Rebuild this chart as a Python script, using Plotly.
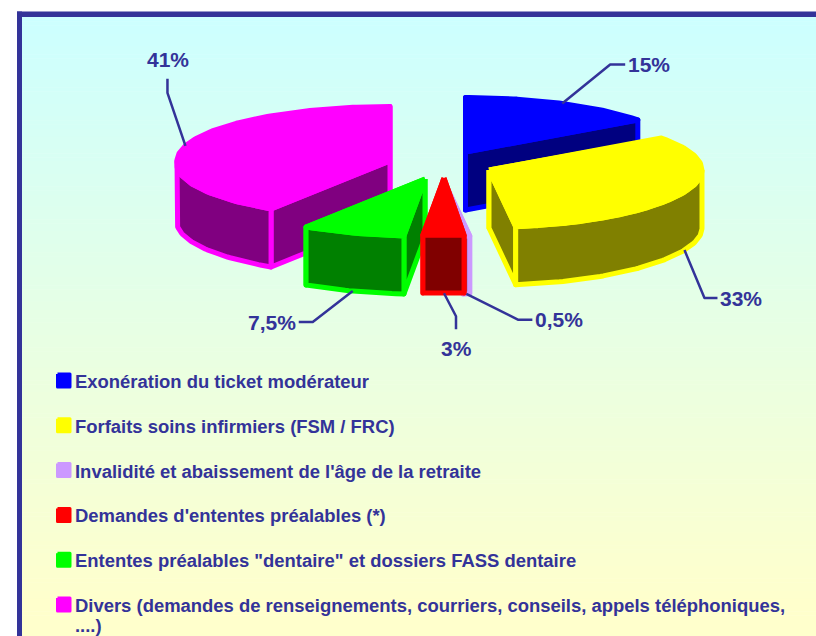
import math
import plotly.graph_objects as go

# --- data ---
categories = [
    "Exonération du ticket modérateur",
    "Forfaits soins infirmiers (FSM / FRC)",
    "Invalidité et abaissement de l'âge de la retraite",
    "Demandes d'ententes préalables (*)",
    "Ententes préalables \"dentaire\" et dossiers FASS dentaire",
    "Divers (demandes de renseignements, courriers, conseils, appels téléphoniques,<br>....)",
]
values = [15, 33, 0.5, 3, 7.5, 41]
value_labels = ["15%", "33%", "0,5%", "3%", "7,5%", "41%"]

# --- style ---
bright = ["#0000FF", "#FFFF00", "#CC99FF", "#FF0000", "#00FF00", "#FF00FF"]
dark = ["#000080", "#808000", "#664C80", "#800000", "#008000", "#800080"]
INK = "#333399"
FONT = "Liberation Sans, Arial, sans-serif"
W, H = 816, 636
RX, RY, DEPTH, FRONT = 213, 54.5, 58, 0.05
STROKE = 5
apex = [(465.5, 152), (489, 170), (443, 179), (444, 178), (425, 179), (390, 161)]
# leader: elbow offset from rim anchor, then end offset from the elbow
elbow = [(48, -39), (20, 48), (52, 26), (12, 23), (-40, 31), (-18, -53)]
tail = [(15, 0), (13, 0), (14, 0), (0, 13), (-14, 0), (0, -14)]
label_gap = [(1, 0), (1, 0), (1, 0), (0, 19), (-1, 0), (1, -19)]
draw_order = [0, 5, 1, 2, 4, 3]
legend_top, legend_step = 380.5, 44.8

fig = go.Figure()


def project(i, deg, drop=0):
    t = math.radians(deg)
    k = 1 + FRONT * max(0, -math.cos(t))
    kx = k if deg > 180 else 1
    return (apex[i][0] + RX * math.sin(t) * kx,
            apex[i][1] - RY * math.cos(t) * k + drop)


def poly(points, fill, line, width=STROKE):
    xs = [p[0] for p in points] + [points[0][0]]
    ys = [p[1] for p in points] + [points[0][1]]
    fig.add_trace(go.Scatter(x=xs, y=ys, mode="lines", fill="toself", fillcolor=fill,
                             line=dict(color=line, width=width), hoverinfo="skip",
                             showlegend=False))


# angular span of every slice, clockwise from twelve o'clock
total = sum(values)
spans, acc = [], 0
for v in values:
    start = acc / total * 360
    acc += v
    spans.append((start, acc / total * 360))

# slices, back to front
for i in draw_order:
    a, b = spans[i]
    walls = sorted([a, b], key=lambda d: project(i, d)[1])
    for w in walls:
        r = project(i, w)
        poly([apex[i], r, (r[0], r[1] + DEPTH), (apex[i][0], apex[i][1] + DEPTH)],
             dark[i], bright[i])
    lo, hi = max(a, 90), min(b, 270)
    if lo < hi:
        n = max(2, int(hi - lo) + 1)
        degs = [lo + (hi - lo) * k / (n - 1) for k in range(n)]
        poly([project(i, d) for d in degs] + [project(i, d, DEPTH) for d in reversed(degs)],
             dark[i], bright[i])
    n = max(2, int(b - a) + 1)
    top = [apex[i]] + [project(i, a + (b - a) * k / (n - 1)) for k in range(n)]
    poly(top, bright[i], bright[i])

# leaders and value labels
for i, text in enumerate(value_labels):
    mid = sum(spans[i]) / 2
    front = 90 < mid < 270
    p0 = project(i, mid, DEPTH if front else 0)
    p1 = (p0[0] + elbow[i][0], p0[1] + elbow[i][1])
    p2 = (p1[0] + tail[i][0], p1[1] + tail[i][1])
    fig.add_trace(go.Scatter(x=[p0[0], p1[0], p2[0]], y=[p0[1], p1[1], p2[1]], mode="lines",
                             line=dict(color=INK, width=2.5), hoverinfo="skip", showlegend=False))
    gx, gy = label_gap[i]
    fig.add_annotation(x=p2[0] + gx, y=p2[1] + gy, text=f"<b>{text}</b>", showarrow=False,
                       xanchor="center" if gy else "left" if gx > 0 else "right",
                       yanchor="middle", font=dict(family=FONT, size=21, color=INK))

# legend
for i, name in enumerate(categories):
    y = legend_top + i * legend_step
    poly([(57.5, y - 6.5), (70, y - 6.5), (70, y + 6.5), (57.5, y + 6.5)], bright[i], bright[i], 3)
    for j, part in enumerate(name.split("<br>")):
        fig.add_annotation(x=73, y=y + 1 + j * 20, text=f"<b>{part}</b>", showarrow=False,
                           xanchor="left", yanchor="middle",
                           font=dict(family=FONT, size=18.45, color=INK))

# background gradient and frame
shapes = []
STEPS = 150
c0, c1 = (0xCC, 0xFF, 0xFF), (0xFF, 0xFF, 0xCC)
for s in range(STEPS):
    y0 = 17 + (H - 17) * s / STEPS
    y1 = 17 + (H - 17) * (s + 1) / STEPS + 0.5
    f = min(1, (s + 0.5) / STEPS * 1.05)
    col = "rgb(%d,%d,%d)" % tuple(round(c0[k] + (c1[k] - c0[k]) * f) for k in range(3))
    shapes.append(dict(type="rect", layer="below", xref="x", yref="y", x0=22, x1=W, y0=y0, y1=y1,
                       fillcolor=col, line_width=0))
shapes.append(dict(type="rect", layer="below", xref="x", yref="y", x0=17, x1=W, y0=11.5, y1=17,
                   fillcolor=INK, line_width=0))
shapes.append(dict(type="rect", layer="below", xref="x", yref="y", x0=17, x1=22, y0=11.5, y1=H,
                   fillcolor=INK, line_width=0))

fig.update_layout(
    width=W, height=H, autosize=False, showlegend=False,
    margin=dict(l=0, r=0, t=0, b=0),
    paper_bgcolor="white", plot_bgcolor="white", shapes=shapes,
    xaxis=dict(range=[0, W], visible=False, fixedrange=True),
    yaxis=dict(range=[H, 0], visible=False, fixedrange=True),
)
fig.write_html(
    "out.html", config={"displayModeBar": False, "staticPlot": True},
    post_script=(
        "document.body.style.margin='0';document.body.style.overflow='hidden';"
        "var s=document.createElement('style');"
        "s.textContent='.scatterlayer path{stroke-linejoin:round!important}';"
        "document.head.appendChild(s);"
    ),
)
